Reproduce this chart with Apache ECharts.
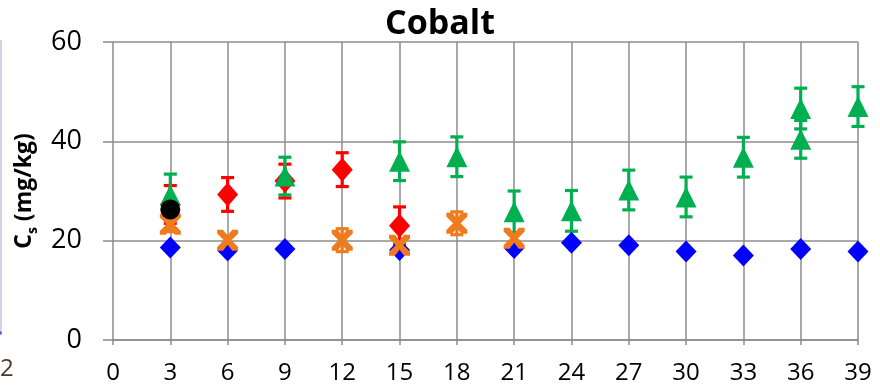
<!DOCTYPE html>
<html>
<head>
<meta charset="utf-8">
<script src="https://cdn.jsdelivr.net/npm/echarts@6/dist/echarts.min.js"></script>
<style>
  html, body { margin: 0; padding: 0; background: #fff; }
  #chart { width: 880px; height: 386px; }
</style>
</head>
<body>
<div id="chart"></div>
<script>
// Cobalt concentration in solids (mg/kg) versus time

// Blue diamonds (no error bars)
const blueX = [3, 6, 9, 15, 21, 24, 27, 30, 33, 36, 39];
const blueY = [18.6, 18.0, 18.3, 18.1, 18.5, 19.6, 19.1, 17.8, 17.0, 18.3, 17.8];

// Red diamonds with standard deviation
const redX = [3, 6, 9, 12, 15];
const redY = [27.3, 29.3, 32.0, 34.3, 23.0];
const redErr = [3.8, 3.4, 3.4, 3.4, 3.8];

// Green triangles with standard deviation
const greenX = [3, 9, 15, 18, 21, 24, 27, 30, 33, 36, 36, 39];
const greenY = [29.2, 33.0, 36.0, 36.9, 25.8, 26.0, 30.2, 28.8, 36.8, 46.6, 40.4, 47.0];
const greenErr = [4.2, 3.8, 3.9, 4.0, 4.2, 4.1, 4.0, 4.0, 4.0, 4.1, 3.8, 4.0];

// Orange crosses with standard deviation
const orangeX = [3, 6, 12, 15, 18, 21];
const orangeY = [23.3, 20.1, 20.1, 19.1, 23.5, 20.5];
const orangeErr = [1.5, 0.8, 2.3, 0.8, 2.3, 0.8];

// Black circle
const blackX = [3];
const blackY = [26.3];

// Axis ranges
const xMin = 0, xMax = 39, xStep = 3;
const yMin = 0, yMax = 60, yStep = 20;

const pts = (xs, ys) => xs.map((x, i) => [x, ys[i]]);
const errPts = (xs, ys, es) => xs.map((x, i) => [x, ys[i], es[i]]);

const CROSS = 'path://M0,0 L2.8,0 L5,2.8 L7.2,0 L10,0 L10,1.8 L6.8,5 L10,8.2 L10,10 L7.2,10 L5,7.2 L2.8,10 L0,10 L0,8.2 L3.2,5 L0,1.8 Z';

function errorBars(capHalf, width) {
  return function (params, api) {
    const x = api.value(0), y = api.value(1), e = api.value(2);
    const top = api.coord([x, y + e]);
    const bot = api.coord([x, y - e]);
    const color = api.visual('color');
    const style = { stroke: color, lineWidth: width, opacity: 1 };
    return {
      type: 'group',
      children: [
        { type: 'line', shape: { x1: top[0], y1: top[1], x2: bot[0], y2: bot[1] }, style: style },
        { type: 'line', shape: { x1: top[0] - capHalf, y1: top[1], x2: top[0] + capHalf, y2: top[1] }, style: style },
        { type: 'line', shape: { x1: bot[0] - capHalf, y1: bot[1], x2: bot[0] + capHalf, y2: bot[1] }, style: style }
      ]
    };
  };
}

const BLUE = '#0000ff', RED = '#ff0000', GREEN = '#00b050', ORANGE = '#ee7b1d', BLACK = '#000000';
const GRID = '#8c8c8c';

const chart = echarts.init(document.getElementById('chart'), null, { renderer: 'canvas' });

chart.setOption({
  animation: false,
  backgroundColor: '#ffffff',
  title: {
    text: 'Cobalt',
    left: 'center',
    top: 2,
    textStyle: { fontFamily: 'Open Sans', fontWeight: 'bold', fontSize: 34, color: '#000' }
  },
  grid: { left: 113, right: 22, top: 42, bottom: 46, containLabel: false },
  xAxis: {
    type: 'value',
    min: xMin, max: xMax, interval: xStep,
    axisLine: { show: true, lineStyle: { color: GRID, width: 1.5 } },
    axisTick: { show: true, length: 5, lineStyle: { color: GRID, width: 1.5 } },
    axisLabel: { margin: 21, fontFamily: 'Open Sans', fontSize: 24, color: '#000' },
    splitLine: { show: true, lineStyle: { color: GRID, width: 1.5 } }
  },
  yAxis: {
    type: 'value',
    min: yMin, max: yMax, interval: yStep,
    name: '{a|C}{b|s}{a| (mg/kg)}',
    nameLocation: 'middle',
    nameRotate: 90,
    nameGap: 64,
    nameTextStyle: {
      rich: {
        a: { fontFamily: 'Open Sans', fontWeight: 'bold', fontSize: 23, color: '#000', lineHeight: 28, verticalAlign: 'bottom' },
        b: { fontFamily: 'Open Sans', fontWeight: 'bold', fontSize: 14, color: '#000', lineHeight: 28, verticalAlign: 'bottom', padding: [0, 0, -4, 0] }
      }
    },
    axisLine: { show: false },
    axisTick: { show: true, length: 10, lineStyle: { color: GRID, width: 1.5 } },
    axisLabel: { margin: 31, fontFamily: 'Open Sans', fontSize: 27, color: '#000' },
    splitLine: { show: true, lineStyle: { color: GRID, width: 1.5 } }
  },
  graphic: [
    { type: 'line', shape: { x1: 1, y1: 40, x2: 1, y2: 333 }, style: { stroke: '#c4c4dc', lineWidth: 1.5 } },
    { type: 'circle', shape: { cx: 0, cy: 333, r: 2 }, style: { fill: '#6a6ad0' } },
    { type: 'text', left: 0, top: 357, style: { text: '2', font: '24px "Open Sans"', fill: '#4d3b2e' } }
  ],
  series: [
    {
      type: 'scatter', name: 'blue', data: pts(blueX, blueY),
      symbol: 'diamond', symbolSize: [21, 22],
      itemStyle: { color: BLUE, opacity: 1 }
    },
    {
      type: 'custom', name: 'redErr', data: errPts(redX, redY, redErr),
      renderItem: errorBars(6.5, 3.2), itemStyle: { color: RED, opacity: 1 }
    },
    {
      type: 'scatter', name: 'red', data: pts(redX, redY),
      symbol: 'diamond', symbolSize: [21, 24],
      itemStyle: { color: RED, opacity: 1 }
    },
    {
      type: 'custom', name: 'greenErr', data: errPts(greenX, greenY, greenErr),
      renderItem: errorBars(6.5, 3.2), itemStyle: { color: GREEN, opacity: 1 }
    },
    {
      type: 'scatter', name: 'green', data: pts(greenX, greenY),
      symbol: 'triangle', symbolSize: [21, 21],
      itemStyle: { color: GREEN, opacity: 1 }
    },
    {
      type: 'custom', name: 'orangeErr', data: errPts(orangeX, orangeY, orangeErr),
      renderItem: errorBars(6.5, 3.2), itemStyle: { color: ORANGE, opacity: 1 }
    },
    {
      type: 'scatter', name: 'orange', data: pts(orangeX, orangeY),
      symbol: CROSS, symbolSize: [21, 21],
      itemStyle: { color: ORANGE, opacity: 1 }
    },
    {
      type: 'scatter', name: 'black', data: pts(blackX, blackY),
      symbol: 'circle', symbolSize: 20,
      itemStyle: { color: BLACK, opacity: 1 }
    }
  ]
});
</script>
</body>
</html>
